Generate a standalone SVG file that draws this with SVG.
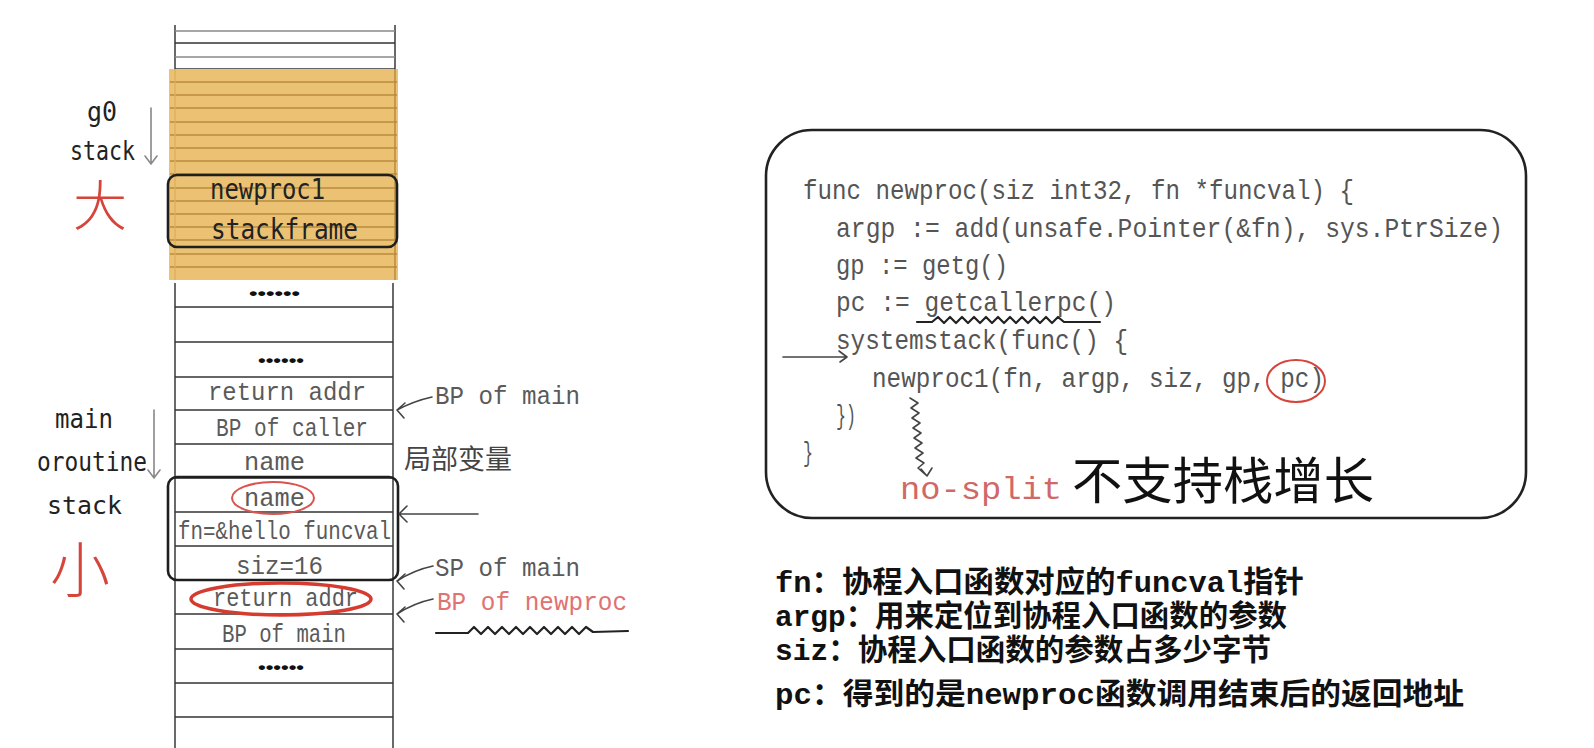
<svg xmlns="http://www.w3.org/2000/svg" width="1594" height="748" viewBox="0 0 1594 748">
<defs>
<style>
.hand{font-family:"DejaVu Sans Mono","Liberation Mono",monospace;fill:#222;}
.cell{font-family:"Liberation Mono","DejaVu Sans Mono",monospace;font-size:26px;fill:#5a5a5a;text-anchor:start;}
.code{font-family:"Liberation Mono","DejaVu Sans Mono",monospace;font-size:28px;fill:#555;}
.note{font-family:"Liberation Mono","Noto Sans CJK SC",monospace;font-size:30px;font-weight:bold;fill:#111;}
.cjkred{font-family:"Noto Sans CJK SC",sans-serif;fill:#d5453a;text-anchor:middle;}
.row{stroke:#333;stroke-width:1.5;}
.rowo{stroke:#b88a3c;stroke-width:1.6;}
.edge{stroke:#444;stroke-width:1.6;fill:none;}
.arr{stroke:#444;stroke-width:1.6;fill:none;stroke-linecap:round;stroke-linejoin:round;}
.wave{stroke:#222;stroke-width:2.2;fill:none;stroke-linecap:round;stroke-linejoin:round;}
.garr{stroke:#888;stroke-width:1.6;fill:none;stroke-linecap:round;}
.dots{font-family:"Liberation Sans",sans-serif;font-size:16px;font-weight:bold;fill:#111;text-anchor:start;}
</style>
</defs>
<rect width="1594" height="748" fill="#fff"/>

<g id="stack-column">
  <line class="edge" x1="175" y1="25" x2="175" y2="69"/>
  <line class="edge" x1="395" y1="25" x2="395" y2="69"/>
  <line x1="175" y1="31" x2="395" y2="31" stroke="#888" stroke-width="1.5"/>
  <line class="row" x1="175" y1="43" x2="395" y2="43"/>
  <line x1="175" y1="57" x2="395" y2="57" stroke="#888" stroke-width="1.5"/>
  <line class="row" x1="175" y1="69" x2="395" y2="69"/>
</g>

<g id="g0-stack-region">
  <rect x="169" y="69" width="229" height="211" fill="#ebc173"/>
  <g class="rowo">
    <line x1="170" y1="82" x2="397" y2="82"/>
    <line x1="170" y1="95" x2="397" y2="95"/>
    <line x1="170" y1="108" x2="397" y2="108"/>
    <line x1="170" y1="122" x2="397" y2="122"/>
    <line x1="170" y1="135" x2="397" y2="135"/>
    <line x1="170" y1="148" x2="397" y2="148"/>
    <line x1="170" y1="161" x2="397" y2="161"/>
    <line x1="170" y1="174" x2="397" y2="174"/>
    <line x1="170" y1="188" x2="397" y2="188"/>
    <line x1="170" y1="201" x2="397" y2="201"/>
    <line x1="170" y1="214" x2="397" y2="214"/>
    <line x1="170" y1="227" x2="397" y2="227"/>
    <line x1="170" y1="240" x2="397" y2="240"/>
    <line x1="170" y1="254" x2="397" y2="254"/>
    <line x1="170" y1="267" x2="397" y2="267"/>
  </g>
  <line x1="395" y1="69" x2="395" y2="280" stroke="#b88a3c" stroke-width="1.5"/>
  <line x1="175" y1="69" x2="175" y2="280" stroke="#dcae5c" stroke-width="1.2"/>
</g>

<g id="newproc1-stackframe">
  <rect x="168" y="175" width="229" height="72" rx="9" fill="none" stroke="#1e1e1e" stroke-width="2.6"/>
  <text class="hand" x="210" y="199" font-size="28" textLength="115" lengthAdjust="spacingAndGlyphs">newproc1</text>
  <text class="hand" x="211" y="239" font-size="28" textLength="147" lengthAdjust="spacingAndGlyphs">stackframe</text>
</g>

<g id="main-stack">
  <line class="edge" x1="175" y1="283" x2="175" y2="748"/>
  <line class="edge" x1="393" y1="283" x2="393" y2="748"/>
  <g class="row">
    <line x1="175" y1="307" x2="393" y2="307"/>
    <line x1="175" y1="342" x2="393" y2="342"/>
    <line x1="175" y1="377" x2="393" y2="377"/>
    <line x1="175" y1="410" x2="393" y2="410"/>
    <line x1="175" y1="444" x2="393" y2="444"/>
    <line x1="175" y1="478" x2="393" y2="478"/>
    <line x1="175" y1="512" x2="393" y2="512"/>
    <line x1="175" y1="546" x2="393" y2="546"/>
    <line x1="175" y1="580" x2="393" y2="580"/>
    <line x1="175" y1="614" x2="393" y2="614"/>
    <line x1="175" y1="649" x2="393" y2="649"/>
    <line x1="175" y1="683" x2="393" y2="683"/>
    <line x1="175" y1="717" x2="393" y2="717"/>
  </g>
  <text class="dots" x="249" y="299" textLength="51" lengthAdjust="spacingAndGlyphs">••••••</text>
  <text class="dots" x="258" y="366" textLength="46" lengthAdjust="spacingAndGlyphs">••••••</text>
  <text class="cell" x="208" y="400" textLength="158" lengthAdjust="spacingAndGlyphs">return addr</text>
  <text class="cell" x="216" y="436" textLength="152" lengthAdjust="spacingAndGlyphs">BP of caller</text>
  <text class="cell" x="244" y="470" textLength="61" lengthAdjust="spacingAndGlyphs">name</text>
  <text class="cell" x="244" y="506" textLength="61" lengthAdjust="spacingAndGlyphs">name</text>
  <text class="cell" x="178" y="539" textLength="213" lengthAdjust="spacingAndGlyphs">fn=&amp;hello funcval</text>
  <text class="cell" x="236" y="574" textLength="87" lengthAdjust="spacingAndGlyphs">siz=16</text>
  <text class="cell" x="213" y="606" textLength="145" lengthAdjust="spacingAndGlyphs">return addr</text>
  <text class="cell" x="222" y="642" textLength="124" lengthAdjust="spacingAndGlyphs">BP of main</text>
  <text class="dots" x="258" y="673" textLength="46" lengthAdjust="spacingAndGlyphs">••••••</text>
</g>

<g id="newproc-args-frame">
  <rect x="168" y="477" width="230" height="103" rx="9" fill="none" stroke="#1e1e1e" stroke-width="2.6"/>
  <ellipse cx="273" cy="498" rx="41" ry="16" fill="none" stroke="#d9534f" stroke-width="2"/>
  <ellipse cx="281" cy="599" rx="90" ry="16" fill="none" stroke="#d63b2f" stroke-width="3.5"/>
</g>

<g id="left-labels">
  <text class="hand" x="87" y="121" font-size="26" textLength="30" lengthAdjust="spacingAndGlyphs">g0</text>
  <text class="hand" x="70" y="160" font-size="26" textLength="65" lengthAdjust="spacingAndGlyphs">stack</text>
  <text class="cjkred" x="100" y="226" font-size="54" font-weight="300">大</text>
  <text class="hand" x="55" y="428" font-size="26" textLength="58" lengthAdjust="spacingAndGlyphs">main</text>
  <text class="hand" x="37" y="471" font-size="26" textLength="110" lengthAdjust="spacingAndGlyphs">oroutine</text>
  <text class="hand" x="47" y="514" font-size="25" textLength="75" lengthAdjust="spacingAndGlyphs">stack</text>
  <text class="cjkred" x="80" y="592" font-size="60" font-weight="300">小</text>
</g>

<g id="right-labels">
  <text class="cell" x="435" y="404" font-size="25" textLength="145" lengthAdjust="spacingAndGlyphs">BP of main</text>
  <text x="404" y="469" font-family="Noto Sans CJK SC,sans-serif" font-size="27" fill="#444">局部变量</text>
  <text class="cell" x="435" y="576" font-size="25" textLength="145" lengthAdjust="spacingAndGlyphs">SP of main</text>
  <text class="cell" x="437" y="610" font-size="25" textLength="190" lengthAdjust="spacingAndGlyphs" style="fill:#e07272">BP of newproc</text>
</g>

<g id="connectors">
  <path class="garr" d="M151 108 L151 164 M145 156 L151 164 L157 156"/>
  <path class="garr" d="M154 410 L154 478 M148 470 L154 478 L160 470"/>
  <path class="arr" d="M432 397 Q414 401 397 410 M405 403 L397 410 L404 418"/>
  <path class="arr" d="M478 514 L399 514 M407 506 L399 514 L407 522"/>
  <path class="arr" d="M433 566 Q414 570 397 581 M405 574 L397 581 L404 589"/>
  <path class="arr" d="M433 599 Q414 603 397 614 M405 607 L397 614 L404 622"/>
  <path class="wave" d="M436 633 L468 633 L474 627 L481 634 L488 627 L495 634 L502 627 L509 634 L516 627 L523 634 L530 627 L537 634 L544 627 L551 634 L558 627 L565 634 L572 627 L579 634 L586 627 L593 632 L628 631"/>
</g>

<g id="code-box">
  <rect x="766" y="130" width="760" height="388" rx="46" fill="none" stroke="#222" stroke-width="2.6"/>
  <text class="code" x="803" y="199" textLength="551" lengthAdjust="spacingAndGlyphs">func newproc(siz int32, fn *funcval) {</text>
  <text class="code" x="836" y="237" textLength="667" lengthAdjust="spacingAndGlyphs">argp := add(unsafe.Pointer(&amp;fn), sys.PtrSize)</text>
  <text class="code" x="836" y="274" textLength="172" lengthAdjust="spacingAndGlyphs">gp := getg()</text>
  <text class="code" x="836" y="311" textLength="280" lengthAdjust="spacingAndGlyphs">pc := getcallerpc()</text>
  <text class="code" x="836" y="349" textLength="292" lengthAdjust="spacingAndGlyphs">systemstack(func() {</text>
  <text class="code" x="872" y="387" textLength="452" lengthAdjust="spacingAndGlyphs">newproc1(fn, argp, siz, gp, pc)</text>
  <text class="code" x="836" y="424" textLength="20" lengthAdjust="spacingAndGlyphs">})</text>
  <text class="code" x="803" y="461" textLength="10" lengthAdjust="spacingAndGlyphs">}</text>
  <ellipse cx="1296" cy="381" rx="29" ry="21" fill="none" stroke="#d5453a" stroke-width="2"/>
  <path class="wave" d="M917 322 L932 322 L938 317 L944 323 L950 317 L956 323 L962 317 L968 323 L974 317 L980 323 L986 317 L992 323 L998 317 L1004 323 L1010 317 L1016 323 L1022 317 L1028 323 L1034 317 L1040 323 L1046 317 L1052 323 L1058 317 L1064 322 L1100 322"/>
  <path class="arr" stroke-width="1.8" d="M783 357 L847 357 M839 351 L847 357 L840 362"/>
  <path class="arr" stroke-width="1.4" d="M910 398 L918 403 L911 408 L919 413 L912 418 L920 423 L913 428 L921 433 L914 438 L922 443 L915 448 L923 453 L916 458 L924 463 L918 468 L927 476 M921 469 L927 476 L932 468"/>
  <text x="900" y="499" font-family="Liberation Mono,monospace" font-size="32" fill="#d06868" textLength="162" lengthAdjust="spacingAndGlyphs">no-split</text>
  <text x="1072" y="499" font-family="Noto Sans CJK SC,sans-serif" font-size="50" fill="#111" textLength="302" lengthAdjust="spacingAndGlyphs">不支持栈增长</text>
</g>

<g id="notes">
  <text class="note" x="775" y="592" textLength="529" lengthAdjust="spacingAndGlyphs">fn：协程入口函数对应的funcval指针</text>
  <text class="note" x="775" y="626" textLength="512" lengthAdjust="spacingAndGlyphs">argp：用来定位到协程入口函数的参数</text>
  <text class="note" x="775" y="660" textLength="496" lengthAdjust="spacingAndGlyphs">siz：协程入口函数的参数占多少字节</text>
  <text class="note" x="775" y="704" textLength="689" lengthAdjust="spacingAndGlyphs">pc：得到的是newproc函数调用结束后的返回地址</text>
</g>
</svg>
